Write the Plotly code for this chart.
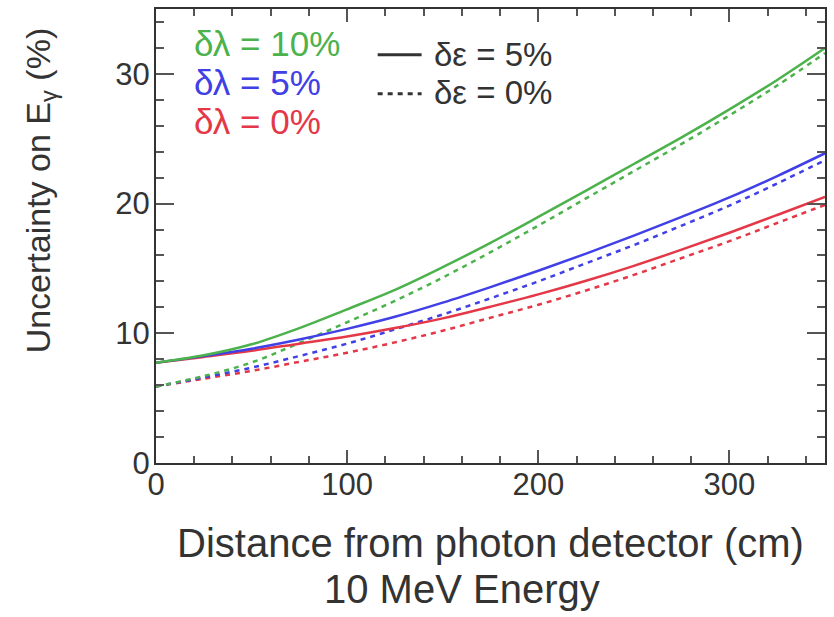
import plotly.graph_objects as go

# distance from photon detector (cm)
distance = [0, 25, 50, 75, 100, 125, 150, 175, 200, 225, 250, 275, 300, 325, 350]

# uncertainty on E_gamma (%), delta-epsilon = 0% (dotted)
red_dotted   = [5.9, 6.5, 7.1, 7.8, 8.5, 9.3, 10.2, 11.2, 12.2, 13.3, 14.5, 15.8, 17.1, 18.5, 19.9]
blue_dotted  = [5.9, 6.6, 7.35, 8.25, 9.2, 10.3, 11.45, 12.7, 14.0, 15.4, 16.8, 18.3, 19.85, 21.55, 23.35]
green_dotted = [5.9, 6.7, 7.75, 9.25, 10.85, 12.5, 14.3, 16.25, 18.3, 20.4, 22.5, 24.6, 26.8, 29.1, 31.6]

# delta-epsilon = 5% (solid)
red_solid   = [7.73, 8.18, 8.65, 9.2, 9.75, 10.4, 11.15, 12.05, 13.0, 14.05, 15.2, 16.45, 17.75, 19.12, 20.52]
blue_solid  = [7.73, 8.24, 8.81, 9.52, 10.34, 11.27, 12.36, 13.56, 14.82, 16.14, 17.53, 18.97, 20.47, 22.12, 23.88]
green_solid = [7.73, 8.3, 9.15, 10.4, 11.85, 13.35, 15.1, 16.97, 18.97, 21.0, 23.05, 25.1, 27.26, 29.53, 31.99]

x_ticks = [0, 100, 200, 300]
y_ticks = [0, 10, 20, 30]

GREEN = "rgb(76,178,76)"
BLUE = "rgb(64,64,230)"
RED = "rgb(228,56,72)"
DARK = "#333333"
FONT = "Liberation Sans"

fig = go.Figure()

series = [
    (red_dotted, RED, "dot"), (blue_dotted, BLUE, "dot"), (green_dotted, GREEN, "dot"),
    (red_solid, RED, "solid"), (blue_solid, BLUE, "solid"), (green_solid, GREEN, "solid"),
]
for vals, col, style in series:
    fig.add_trace(go.Scatter(
        x=distance, y=vals, mode="lines",
        line=dict(color=col, width=2.5, shape="spline", smoothing=1.0,
                  dash="5px,5px" if style == "dot" else "solid"),
        showlegend=False, hoverinfo="skip"))

L, R, T, B = 156, 8, 7, 154
W, H = 834, 617
pw, ph = W - L - R, H - T - B

def px(xp):
    return (xp - L) / pw

def py(yp):
    return (H - B - yp) / ph

fig.update_layout(
    width=W, height=H,
    margin=dict(l=L, r=R, t=T, b=B),
    paper_bgcolor="white", plot_bgcolor="white",
    font=dict(family=FONT, color=DARK),
    xaxis=dict(range=[0, 350], tickvals=x_ticks, ticks="inside", ticklen=13, tickwidth=1.5,
               tickcolor="#555", showline=True, linewidth=2, linecolor=DARK, mirror="ticks",
               showgrid=False, zeroline=False, tickfont=dict(size=31, family=FONT, color=DARK),
               ticklabelstandoff=-7,
               minor=dict(dtick=20, ticks="inside", ticklen=7, tickcolor="#555", tickwidth=1.5),
               fixedrange=True),
    yaxis=dict(range=[0, 35], tickvals=y_ticks, ticks="inside", ticklen=18, tickwidth=1.5,
               tickcolor="#555", showline=True, linewidth=2, linecolor=DARK, mirror="ticks",
               showgrid=False, zeroline=False, tickfont=dict(size=31, family=FONT, color=DARK),
               ticklabelstandoff=-2,
               minor=dict(dtick=2, ticks="inside", ticklen=8, tickcolor="#555", tickwidth=1.5),
               fixedrange=True),
)

annotations = [
    dict(text="Distance from photon detector (cm)", x=px(491), y=py(543), font=dict(size=40)),
    dict(text="10 MeV Energy", x=px(462), y=py(590), font=dict(size=40)),
    dict(text="Uncertainty on E<sub>γ</sub> (%)", x=px(40), y=py(189), textangle=-90, font=dict(size=34)),
    dict(text="δλ = 10%", x=px(192), y=py(42), xanchor="left", font=dict(size=35, color=GREEN)),
    dict(text="δλ = 5%", x=px(192), y=py(81), xanchor="left", font=dict(size=35, color=BLUE)),
    dict(text="δλ = 0%", x=px(192), y=py(120), xanchor="left", font=dict(size=35, color=RED)),
    dict(text="δε = 5%", x=px(432), y=py(53), xanchor="left", font=dict(size=33, color=DARK)),
    dict(text="δε = 0%", x=px(432), y=py(91), xanchor="left", font=dict(size=33, color=DARK)),
]
for a in annotations:
    a.setdefault("xanchor", "center")
    a.update(xref="paper", yref="paper", showarrow=False, yanchor="middle")
    a["font"].setdefault("color", DARK)
    a["font"]["family"] = FONT
    fig.add_annotation(**a)

fig.add_shape(type="line", xref="paper", yref="paper", x0=px(378), x1=px(422), y0=py(53), y1=py(53),
              line=dict(color=DARK, width=3))
fig.add_shape(type="line", xref="paper", yref="paper", x0=px(378), x1=px(422), y0=py(92), y1=py(92),
              line=dict(color=DARK, width=3, dash="5px,5px"))

fig.write_html("out.html", config={"displayModeBar": False},
               post_script="document.body.style.margin='0';document.body.style.overflow='hidden';")
